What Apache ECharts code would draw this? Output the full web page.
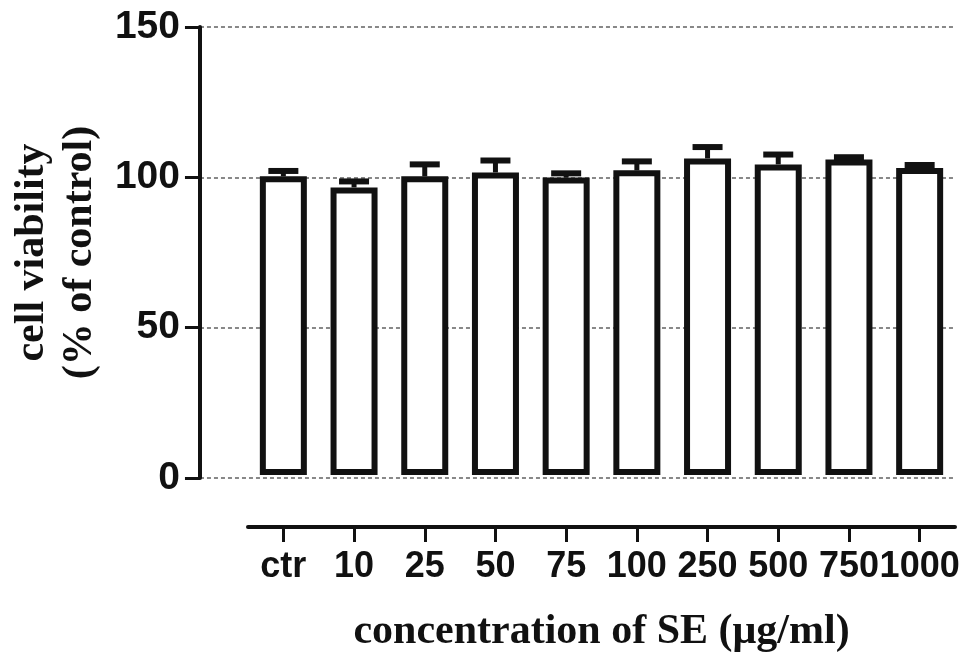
<!DOCTYPE html>
<html>
<head>
<meta charset="utf-8">
<script src="https://cdn.jsdelivr.net/npm/echarts@6/dist/echarts.min.js"></script>
<style>
  html, body { margin: 0; padding: 0; background: #fff; }
  #chart { width: 969px; height: 658px; }
</style>
</head>
<body>
<div id="chart"></div>
<script>
// concentrations of SE (µg/ml)
const categories = ['ctr', '10', '25', '50', '75', '100', '250', '500', '750', '1000']
// cell viability, % of control (mean)
const viability = [100, 96.3, 100, 101.3, 99.6, 102, 106, 104, 105.6, 102.8]
// upper error (SD)
const errors = [1.8, 2, 4, 4, 1.4, 3, 3.8, 3.3, 0.8, 1]
const yTicks = { min: 0, max: 150, interval: 50 }

const chart = echarts.init(document.getElementById('chart'))

const black = '#111'
const narrowBold = { fontFamily: 'Liberation Sans Narrow, Arial Narrow, sans-serif', fontWeight: 'bold', color: black }
const serifBold = { fontFamily: 'Liberation Serif, Times New Roman, serif', fontWeight: 'bold', color: black }

chart.setOption({
  animation: false,
  grid: [
    { left: 197, right: 14, top: 27, bottom: 180 },
    { left: 248, right: 14, top: 27, bottom: 180 }
  ],
  xAxis: [
    { gridIndex: 0, type: 'value', show: false, min: 0, max: 1 },
    {
      gridIndex: 1,
      type: 'category',
      data: categories,
      offset: 52,
      axisLine: { onZero: false, lineStyle: { color: black, width: 4 } },
      axisTick: { show: true, alignWithLabel: true, length: 15, lineStyle: { color: black, width: 3 } },
      axisLabel: Object.assign({ fontSize: 36, margin: 22, interval: 0 }, narrowBold),
      name: 'concentration of SE (μg/ml)',
      nameLocation: 'middle',
      nameGap: 84,
      nameTextStyle: Object.assign({ fontSize: 42 }, serifBold)
    }
  ],
  yAxis: [
    {
      gridIndex: 0,
      type: 'value',
      min: yTicks.min,
      max: yTicks.max,
      interval: yTicks.interval,
      axisLine: { show: true, lineStyle: { color: black, width: 4 } },
      axisTick: { show: true, length: 15, lineStyle: { color: black, width: 3 } },
      axisLabel: Object.assign({ fontSize: 39, margin: 20 }, narrowBold),
      splitLine: { show: true, lineStyle: { color: '#888', width: 2, type: [4, 3] } },
      name: 'cell viability\n(% of control)',
      nameLocation: 'middle',
      nameRotate: 90,
      nameGap: 89,
      nameTextStyle: Object.assign({ fontSize: 42, lineHeight: 48 }, serifBold)
    },
    { gridIndex: 1, type: 'value', show: false, min: yTicks.min, max: yTicks.max }
  ],
  series: [
    {
      type: 'bar',
      xAxisIndex: 1,
      yAxisIndex: 1,
      data: viability,
      barWidth: 47,
      itemStyle: { color: '#fff', borderColor: black, borderWidth: 6 },
      z: 2
    },
    {
      type: 'custom',
      xAxisIndex: 1,
      yAxisIndex: 1,
      data: viability.map((v, i) => [i, v, errors[i]]),
      z: 3,
      renderItem(params, api) {
        const i = api.value(0)
        const mean = api.value(1)
        const err = api.value(2)
        const base = api.coord([i, mean])
        const top = api.coord([i, mean + err])
        const half = 15
        return {
          type: 'group',
          children: [
            {
              type: 'line',
              shape: { x1: base[0], y1: base[1], x2: top[0], y2: top[1] },
              style: { stroke: black, lineWidth: 5 }
            },
            {
              type: 'line',
              shape: { x1: top[0] - half, y1: top[1], x2: top[0] + half, y2: top[1] },
              style: { stroke: black, lineWidth: 6 }
            }
          ]
        }
      }
    }
  ]
})
</script>
</body>
</html>
